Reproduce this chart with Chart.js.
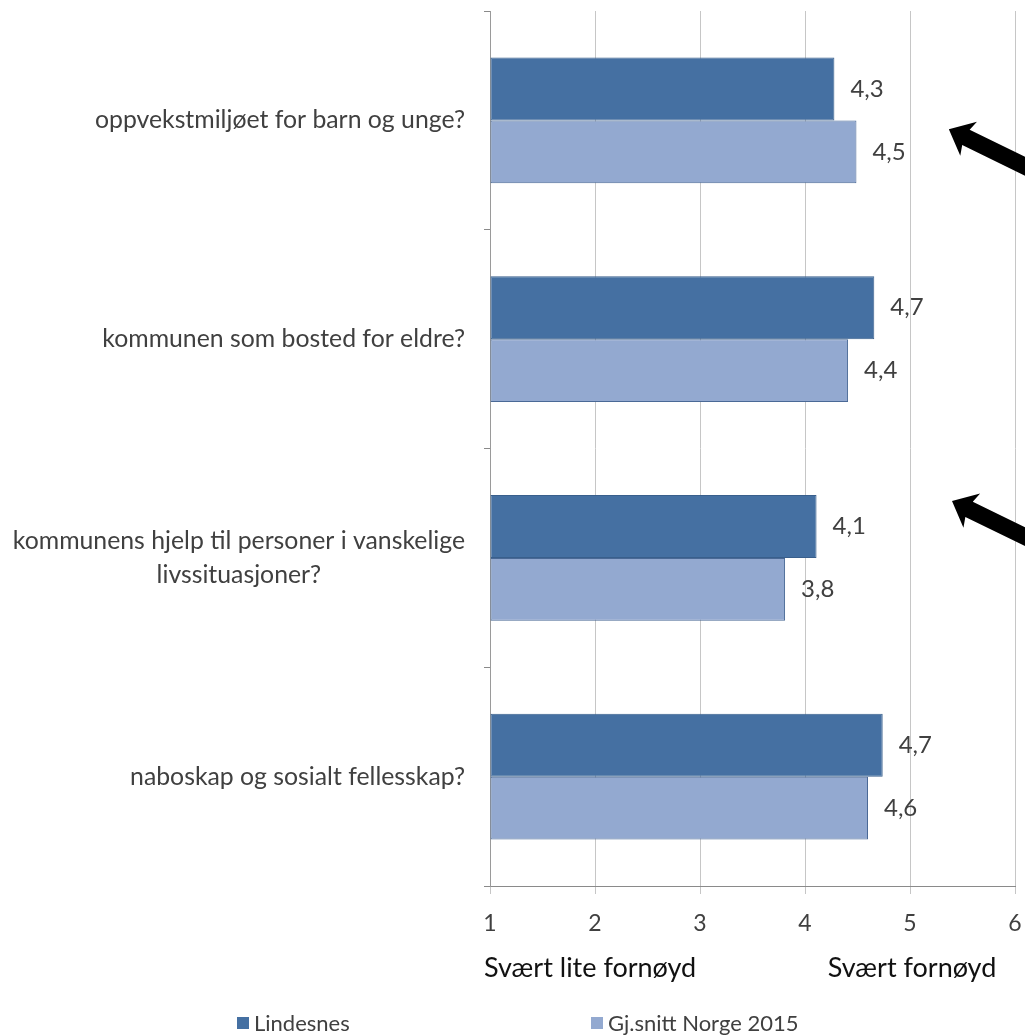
<!DOCTYPE html>
<html>
<head>
<meta charset="utf-8">
<script src="https://cdn.jsdelivr.net/npm/chart.js@4"></script>
<style>
  html, body { margin: 0; padding: 0; background: #fff; }
  #wrap { width: 1025px; height: 1035px; }
</style>
</head>
<body>
<div id="wrap"><canvas id="chart" width="1025" height="1035"></canvas></div>
<script>
// data
const categories = [
  ['oppvekstmiljøet for barn og unge?'],
  ['kommunen som bosted for eldre?'],
  ['kommunens hjelp til personer i vanskelige', 'livssituasjoner?'],
  ['naboskap og sosialt fellesskap?'],
];
const lindesnes = [4.28, 4.66, 4.11, 4.74];
const norge = [4.49, 4.41, 3.81, 4.60];
const seriesNames = ['Lindesnes', 'Gj.snitt Norge 2015'];
const xTicks = [1, 2, 3, 4, 5, 6];
const scaleEnds = ['Svært lite fornøyd', 'Svært fornøyd'];

// the two black arrows, tip in data units (x value, category index)
const arrows = [
  { x: 5.37, y: 0.04, angle: 26 },
  { x: 5.40, y: 1.74, angle: 26 },
];

const FONT = 'Lato, "Open Sans", sans-serif';
const fmt = (v) => v.toFixed(1).replace('.', ',');

const extras = {
  id: 'extras',
  afterDatasetsDraw(chart) {
    const ctx = chart.ctx;
    ctx.save();
    ctx.font = `24px ${FONT}`;
    ctx.fillStyle = '#404040';
    ctx.textBaseline = 'middle';
    ctx.textAlign = 'left';
    chart.data.datasets.forEach((ds, i) => {
      chart.getDatasetMeta(i).data.forEach((bar, j) => {
        ctx.fillText(fmt(ds.data[j]), bar.x + 16, bar.y);
      });
    });
    ctx.restore();
  },
  afterDraw(chart) {
    const ctx = chart.ctx;
    const x = chart.scales.x, y = chart.scales.y;
    const area = chart.chartArea;
    ctx.save();

    // category labels, lines centred on each other, block right aligned
    ctx.font = `24.8px ${FONT}`;
    ctx.fillStyle = '#404040';
    ctx.textAlign = 'center';
    ctx.textBaseline = 'middle';
    const lh = 34;
    categories.forEach((lines, i) => {
      const cy = y.getPixelForTick(i);
      const w = Math.max(...lines.map(l => ctx.measureText(l).width));
      const cx = area.left - 25 - w / 2;
      lines.forEach((l, k) => {
        ctx.fillText(l, cx, cy + (k - (lines.length - 1) / 2) * lh);
      });
    });

    // scale end texts
    ctx.font = `27px ${FONT}`;
    ctx.fillStyle = '#111';
    ctx.textAlign = 'left';
    ctx.fillText(scaleEnds[0], x.getPixelForValue(1) - 6, area.bottom + 82);
    ctx.textAlign = 'center';
    ctx.fillText(scaleEnds[1], x.getPixelForValue(5) + 2, area.bottom + 82);

    // legend
    ctx.font = `22px ${FONT}`;
    ctx.textAlign = 'left';
    const ly = area.bottom + 137;
    const lx = [237, 591];
    chart.data.datasets.forEach((ds, i) => {
      ctx.fillStyle = ds.backgroundColor;
      ctx.fillRect(lx[i], ly - 6, 12, 12);
      ctx.fillStyle = '#404040';
      ctx.fillText(ds.label, lx[i] + 17, ly + 1);
    });

    // arrows
    ctx.fillStyle = '#000';
    arrows.forEach(a => {
      const tx = x.getPixelForValue(a.x);
      const ty = y.getPixelForValue(a.y);
      ctx.save();
      ctx.translate(tx, ty);
      ctx.rotate(a.angle * Math.PI / 180);
      ctx.beginPath();
      ctx.moveTo(0, 0);
      ctx.lineTo(22, -19);
      ctx.lineTo(19, -8.5);
      ctx.lineTo(200, -8.5);
      ctx.lineTo(200, 8.5);
      ctx.lineTo(19, 8.5);
      ctx.lineTo(22, 19);
      ctx.closePath();
      ctx.fill();
      ctx.restore();
    });
    ctx.restore();
  },
};

new Chart(document.getElementById('chart'), {
  type: 'bar',
  data: {
    labels: categories,
    datasets: [
      {
        label: seriesNames[0],
        data: lindesnes,
        backgroundColor: '#4570a2',
        borderColor: '#395f8c',
        borderWidth: 1,
        borderSkipped: false,
        base: 1,
      },
      {
        label: seriesNames[1],
        data: norge,
        backgroundColor: '#93a9d0',
        borderColor: '#4a6996',
        borderWidth: 1,
        borderSkipped: false,
        base: 1,
      },
    ],
  },
  options: {
    indexAxis: 'y',
    responsive: false,
    animation: false,
    layout: { padding: { top: 11, right: 10, left: 0, bottom: 0 } },
    datasets: { bar: { categoryPercentage: 0.575, barPercentage: 1 } },
    scales: {
      x: {
        min: 1,
        max: 6,
        afterBuildTicks: (s) => { s.ticks = xTicks.map(v => ({ value: v })); },
        afterFit: (s) => { s.height = 149; s.paddingLeft = 0; s.paddingRight = 0; },
        ticks: {
          font: { family: FONT, size: 23 },
          color: '#404040',
          padding: 16,
          maxRotation: 0,
        },
        grid: { color: '#c6c6c6', lineWidth: 1, tickLength: 8, drawTicks: true },
        border: { color: '#8a8a8a', width: 1 },
      },
      y: {
        afterFit: (s) => { s.width = 490; },
        ticks: { display: false },
        grid: { drawOnChartArea: false, tickLength: 6, color: '#8a8a8a' },
        border: { color: '#9a9a9a', width: 1 },
      },
    },
    plugins: {
      legend: { display: false },
      tooltip: { enabled: false },
    },
  },
  plugins: [extras],
});
</script>
</body>
</html>
